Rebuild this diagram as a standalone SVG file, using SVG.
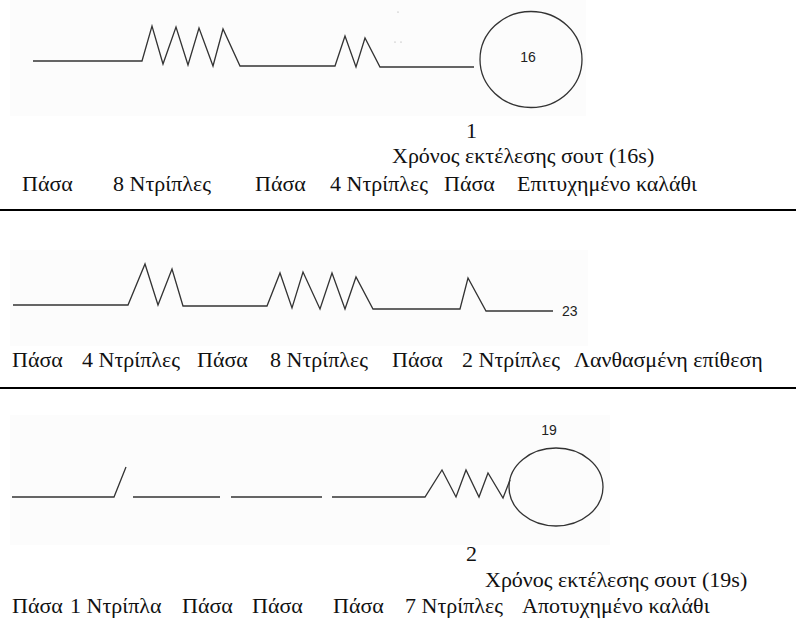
<svg xmlns="http://www.w3.org/2000/svg" width="796" height="630" viewBox="0 0 796 630">
<style>
.bg{fill:#fcfcfc;stroke:none}
.ln{fill:none;stroke:#333;stroke-width:1.3;stroke-linejoin:miter}
.rule{stroke:#000;stroke-width:2}
.t{font-family:"Liberation Serif","DejaVu Serif",serif;font-size:22px;fill:#111}
.n{font-family:"Liberation Sans",Arial,sans-serif;font-size:14px;fill:#222}
.dot{fill:#999}
</style>
<rect width="796" height="630" fill="#fff"/>
<g id="panel1">
  <rect class="bg" x="10" y="0" width="576" height="116"/>
  <g id="connectors1">
    <polyline class="ln" points="33,61 142,61 152,26 163,64 176,27 188,65 199,28 213,66 223,29 240,66 335,66 345,36 356,67 365,38 380,67 474,67"/>
  </g>
  <circle class="dot" cx="398" cy="12" r="0.6"/>
  <circle class="dot" cx="395" cy="42" r="0.6"/>
  <circle class="dot" cx="401" cy="42" r="0.6"/>
  <g id="shot1">
    <ellipse class="ln" cx="531" cy="59.5" rx="51" ry="48"/>
    <text class="n" x="528" y="62" text-anchor="middle">16</text>
  </g>
</g>
<g id="labels1">
  <text class="t" x="466" y="138">1</text>
  <text class="t" x="392" y="163">Χρόνος εκτέλεσης σουτ (16s)</text>
  <text class="t" x="22" y="191">Πάσα</text>
  <text class="t" x="113" y="191">8 Ντρίπλες</text>
  <text class="t" x="255" y="191">Πάσα</text>
  <text class="t" x="330" y="191">4 Ντρίπλες</text>
  <text class="t" x="444" y="191">Πάσα</text>
  <text class="t" x="517" y="191">Επιτυχημένο καλάθι</text>
</g>
<line class="rule" x1="0" y1="210" x2="796" y2="210"/>
<g id="panel2">
  <rect class="bg" x="10" y="250" width="578" height="96"/>
  <g id="connectors2">
    <polyline class="ln" points="13,305 128,305 145,264 158,305 172,269 183,306 267,306 280,273 292,308 303,272 320,309 332,273 345,309 356,277 373,309 460,309 468,278 486,311 553,311"/>
  </g>
  <text class="n" x="562" y="316">23</text>
</g>
<g id="labels2">
  <text class="t" x="12" y="367">Πάσα</text>
  <text class="t" x="82" y="367">4 Ντρίπλες</text>
  <text class="t" x="197" y="367">Πάσα</text>
  <text class="t" x="270" y="367">8 Ντρίπλες</text>
  <text class="t" x="392" y="367">Πάσα</text>
  <text class="t" x="462" y="367">2 Ντρίπλες</text>
  <text class="t" x="574" y="367">Λανθασμένη επίθεση</text>
</g>
<line class="rule" x1="0" y1="388" x2="796" y2="388"/>
<g id="panel3">
  <rect class="bg" x="10" y="415" width="600" height="130"/>
  <g id="connectors3">
    <polyline class="ln" points="12,497 114,497 126,467"/>
    <line class="ln" x1="133" y1="497" x2="220" y2="497"/>
    <line class="ln" x1="231" y1="497" x2="322" y2="497"/>
    <polyline class="ln" points="332,497 425,497 442,470 456,497 466,470 479,497 488,473 503,498 510,480"/>
  </g>
  <g id="shot2">
    <ellipse class="ln" cx="556" cy="487" rx="47" ry="39"/>
    <text class="n" x="549" y="435" text-anchor="middle">19</text>
  </g>
</g>
<g id="labels3">
  <text class="t" x="466" y="561">2</text>
  <text class="t" x="485" y="587">Χρόνος εκτέλεσης σουτ (19s)</text>
  <text class="t" x="12" y="613">Πάσα</text>
  <text class="t" x="70" y="613">1 Ντρίπλα</text>
  <text class="t" x="182" y="613">Πάσα</text>
  <text class="t" x="252" y="613">Πάσα</text>
  <text class="t" x="333" y="613">Πάσα</text>
  <text class="t" x="405" y="613">7 Ντρίπλες</text>
  <text class="t" x="522" y="613">Αποτυχημένο καλάθι</text>
</g>
</svg>
